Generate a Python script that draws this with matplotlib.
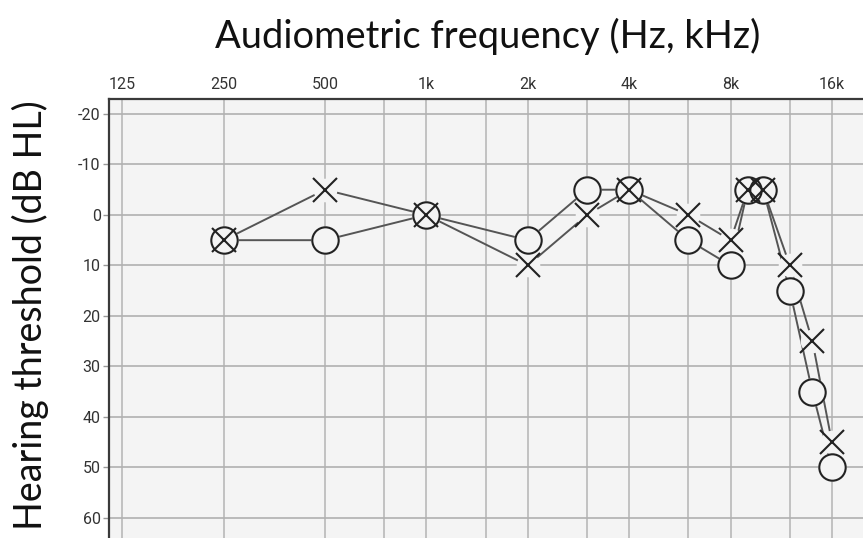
import matplotlib
matplotlib.use('Agg')
import matplotlib.pyplot as plt
from matplotlib import font_manager

plt.rcParams['axes.unicode_minus'] = False

# ---- data ----
freqs = [250, 500, 1000, 2000, 3000, 4000, 6000, 8000, 9000, 10000, 12000, 14000, 16000]
circle_db = [5, 5, 0, 5, -5, -5, 5, 10, -5, -5, 15, 35, 50]
cross_db = [5, -5, 0, 10, 0, -5, 0, 5, -5, -5, 10, 25, 45]
xtick_vals = [125, 250, 500, 1000, 2000, 4000, 8000, 16000]
xtick_labels = ['125', '250', '500', '1k', '2k', '4k', '8k', '16k']
grid_freqs = [125, 250, 500, 750, 1000, 1500, 2000, 3000, 4000, 6000, 8000, 12000, 16000]
ytick_vals = [-20, -10, 0, 10, 20, 30, 40, 50, 60]
title_text = 'Audiometric frequency (Hz, kHz)'
ylabel_text = 'Hearing threshold (dB HL)'

avail = {f.name for f in font_manager.fontManager.ttflist}
narrow = 'Liberation Sans Narrow' if 'Liberation Sans Narrow' in avail else 'Roboto'
big = 'Lato' if 'Lato' in avail else 'Open Sans'

W, H = 863, 538
fig = plt.figure(figsize=(W / 100, H / 100), dpi=100)
fig.patch.set_facecolor('white')
ax = fig.add_axes([109 / W, 0, 1 - 109 / W, 1 - 99 / H])
ax.set_xscale('log', base=2)
ax.set_xlim(114.1, 19790)
ax.set_ylim(64.0, -22.97)
bg = '#f4f4f4'
ax.set_facecolor(bg)

for f in grid_freqs:
    ax.axvline(f, color='#b8b8b8', lw=1.2, zorder=1)
for v in ytick_vals:
    ax.axhline(v, color='#b0b0b0', lw=1.2, zorder=1)

ax.xaxis.tick_top()
ax.set_xticks(xtick_vals)
ax.set_xticklabels(xtick_labels)
ax.minorticks_off()
ax.tick_params(axis='x', length=0, pad=5, labelsize=11.5, labelcolor='#333333')
ax.set_yticks(ytick_vals)
ax.set_yticklabels([str(v) for v in ytick_vals])
ax.tick_params(axis='y', length=4, width=1, color='#999999', pad=2,
               labelsize=11.5, labelcolor='#333333')
for lab in ax.get_xticklabels() + ax.get_yticklabels():
    lab.set_family(narrow)

for s in ['right', 'bottom']:
    ax.spines[s].set_visible(False)
for s in ['left', 'top']:
    ax.spines[s].set_color('#3a3a3a')
    ax.spines[s].set_linewidth(1.6)

# connecting lines
ax.plot(freqs, circle_db, color='#555555', lw=1.4, zorder=2, solid_capstyle='butt')
ax.plot(freqs, cross_db, color='#555555', lw=1.4, zorder=2, solid_capstyle='butt')
# masks so lines stop at the symbols
ax.plot(freqs, circle_db, ls='none', marker='o', ms=20.5, mfc=bg, mec='none', zorder=3)
ax.plot(freqs, cross_db, ls='none', marker='o', ms=17, mfc=bg, mec='none', zorder=3)
# symbols
ax.plot(freqs, circle_db, ls='none', marker='o', ms=19, mfc='none', mec='#222222',
        mew=1.5, zorder=4)
ax.plot(freqs, cross_db, ls='none', marker='x', ms=17.5, mec='#222222', mew=1.5, zorder=5)

# titles
t = fig.text(488 / W, 1 - 36 / H, title_text, ha='center', va='center',
             fontsize=24, family=big, color='#111111')
yl = fig.text(30 / W, 1 - 315 / H, ylabel_text, ha='center', va='center',
              rotation=90, fontsize=24, family=big, color='#111111')
fig.canvas.draw()
r = fig.canvas.get_renderer()
bw = t.get_window_extent(r).width
t.set_fontsize(24 * 545 / bw)
bh = yl.get_window_extent(r).height
yl.set_fontsize(24 * 430 / bh)

fig.savefig('out.png', dpi=100, facecolor='white')
